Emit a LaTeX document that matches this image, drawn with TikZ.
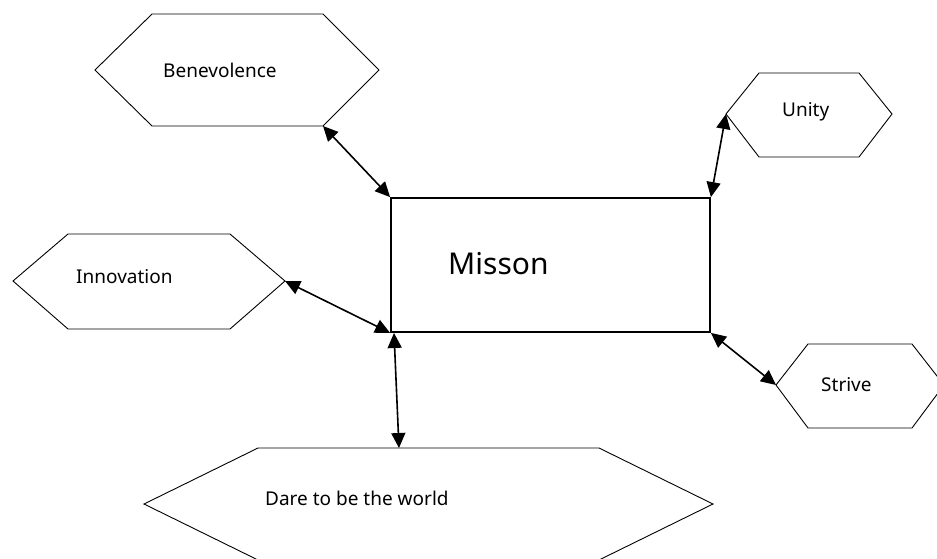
\documentclass[tikz,border=0pt]{standalone}
\usepackage{fontspec}
\setmainfont{Noto Sans}
\usetikzlibrary{arrows.meta}
\tikzset{
  hexa/.style={draw=black, line width=0.9pt, line join=miter},
  lbl/.style={anchor=west, inner sep=0pt, font=\fontsize{19}{22}\selectfont},
  bigbox/.style={draw=black, line width=1.8pt, inner sep=0pt, minimum width=319pt, minimum height=134pt},
  link/.style={line width=1.6pt, {Triangle[length=15pt,width=14pt]}-{Triangle[length=15pt,width=14pt]}}
}
\begin{document}
\begin{tikzpicture}[x=1pt,y=-1pt]
\useasboundingbox (0,0) rectangle (937,559);
\clip (0,0) rectangle (937,559);
\fill[white] (0,0) rectangle (937,559);
% hexagons
\draw[hexa] (95,70) -- (152,14) -- (323,14) -- (379,70) -- (323,126) -- (152,126) -- cycle;
\draw[hexa] (726,114) -- (759,73) -- (859,73) -- (892,114) -- (859,157) -- (759,157) -- cycle;
\draw[hexa] (13,281) -- (68,234) -- (230,234) -- (285,281) -- (230,329) -- (68,329) -- cycle;
\draw[hexa] (776,385) -- (808,344) -- (912,344) -- (944,385) -- (912,428) -- (808,428) -- cycle;
\draw[hexa] (144,504) -- (258,448) -- (599,448) -- (713,504) -- (599,560) -- (258,560) -- cycle;
% labels
\node[lbl] (bene) at (163,70) {Benevolence};
\node[lbl] (unity) at (782,112) {Unity};
\node[lbl] (innov) at (76,277) {Innovation};
\node[lbl] (strive) at (821,385) {Strive};
\node[lbl] (dare) at (265,498) {Dare to be the world};
% central box
\node[bigbox] (mission) at (550.5,265) {};
\node[anchor=west, inner sep=0pt, font=\fontsize{30}{34}\selectfont] (missontext) at (448,264) {Misson};
% connector ends on the hexagons
\coordinate (beneEnd) at (323,126);
\coordinate (unityEnd) at (726,114);
\coordinate (innovEnd) at (285,281);
\coordinate (striveEnd) at (776,385);
\coordinate (dareEnd) at (399,448);
\coordinate (boxDare) at (394,333);
% connectors
\draw[link] (beneEnd) -- (mission.north west);
\draw[link] (unityEnd) -- (mission.north east);
\draw[link] (innovEnd) -- (mission.south west);
\draw[link] (mission.south east) -- (striveEnd);
\draw[link] (boxDare) -- (dareEnd);
\end{tikzpicture}
\end{document}
